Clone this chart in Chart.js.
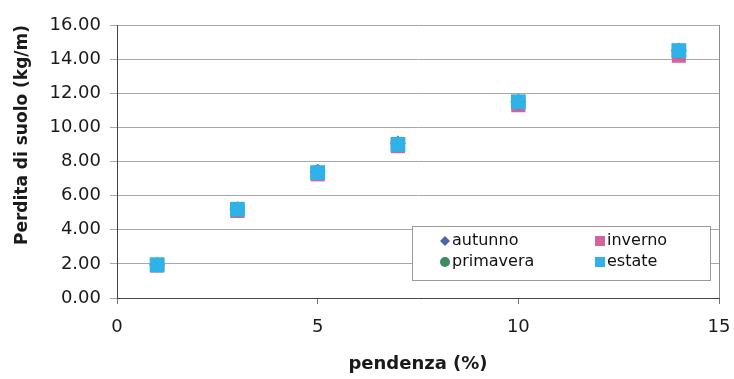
<!DOCTYPE html>
<html>
    <head>
        <title>Perdita di suolo</title>
        <script src="https://cdn.jsdelivr.net/npm/chart.js@4.4.1/dist/chart.umd.min.js"></script>
        <style>
            html, body { margin: 0; padding: 0; background: #fff; }
            #wrap { width: 734px; height: 379px; }
        </style>
    </head>
    <body>
        <div id="wrap"><canvas id="chart" width="734" height="379"></canvas></div>
        <script>
        // pendenza (%)
        const slopes = [1, 3, 5, 7, 10, 14];
        // perdita di suolo (kg/m) per stagione
        const autunno = [1.95, 5.2, 7.4, 9.05, 11.5, 14.5];
        const inverno = [1.9, 5.1, 7.25, 8.9, 11.3, 14.2];
        const primavera = [1.95, 5.15, 7.35, 9.0, 11.45, 14.45];
        const estate = [1.95, 5.2, 7.35, 9.0, 11.5, 14.5];

        const seriesNames = ['autunno', 'inverno', 'primavera', 'estate'];
        const seriesValues = [autunno, inverno, primavera, estate];
        const seriesColors = ['#4a68a8', '#d6629c', '#3e8a62', '#2eb2e8'];
        const seriesShapes = ['rectRot', 'rect', 'circle', 'rect'];
        const seriesRadius = [8, 10, 7, 10.5];
        const seriesOrder = [3, 2, 1, 0];   // estate on top

        const FONT = '"DejaVu Sans", "Liberation Sans", Arial, sans-serif';

        const datasets = seriesNames.map((name, i) => ({
            label: name,
            data: slopes.map((x, k) => ({ x: x, y: seriesValues[i][k] })),
            pointStyle: seriesShapes[i],
            pointRadius: seriesRadius[i],
            pointHoverRadius: seriesRadius[i],
            backgroundColor: seriesColors[i],
            borderColor: seriesColors[i],
            borderWidth: 0,
            order: seriesOrder[i]
        }));

        // legend box drawn inside the plot area, plus right border of plot
        const insideLegend = {
            id: 'insideLegend',
            afterDraw(chart) {
                const ctx = chart.ctx;
                const a = chart.chartArea;
                ctx.save();
                ctx.strokeStyle = '#8c8c8c';
                ctx.lineWidth = 1;
                ctx.beginPath();
                ctx.moveTo(Math.round(a.right) + 0.5, a.top);
                ctx.lineTo(Math.round(a.right) + 0.5, a.bottom);
                ctx.stroke();

                const bx = a.right - 307, by = a.bottom - 72, bw = 298, bh = 54;
                ctx.fillStyle = '#fff';
                ctx.fillRect(bx, by, bw, bh);
                ctx.strokeStyle = '#9a9a9a';
                ctx.strokeRect(bx + 0.5, by + 0.5, bw, bh);

                ctx.font = '16px ' + FONT;
                ctx.textBaseline = 'middle';
                ctx.textAlign = 'left';
                chart.data.datasets.forEach((ds, i) => {
                    const col = i % 2, row = Math.floor(i / 2);
                    const mx = bx + 33 + col * 155;
                    const my = by + 15 + row * 21;
                    ctx.fillStyle = ds.backgroundColor;
                    const shape = ds.pointStyle;
                    if (shape === 'rectRot') {
                        ctx.beginPath();
                        ctx.moveTo(mx, my - 5); ctx.lineTo(mx + 5, my);
                        ctx.lineTo(mx, my + 5); ctx.lineTo(mx - 5, my);
                        ctx.closePath(); ctx.fill();
                    } else if (shape === 'circle') {
                        ctx.beginPath();
                        ctx.arc(mx, my, 5, 0, Math.PI * 2);
                        ctx.fill();
                    } else {
                        ctx.fillRect(mx - 5, my - 5, 10, 10);
                    }
                    ctx.fillStyle = '#111';
                    ctx.fillText(ds.label, mx + 7, my);
                });
                ctx.restore();
            }
        };

        new Chart(document.getElementById('chart').getContext('2d'), {
            type: 'scatter',
            data: { datasets: datasets },
            options: {
                responsive: false,
                animation: false,
                layout: { padding: { top: 25, right: 15, left: 0, bottom: 0 } },
                plugins: {
                    legend: { display: false },
                    tooltip: { enabled: false }
                },
                scales: {
                    x: {
                        type: 'linear',
                        min: 0,
                        max: 15,
                        ticks: {
                            stepSize: 5,
                            color: '#1a1a1a',
                            font: { family: FONT, size: 18 },
                            padding: 13
                        },
                        grid: { drawOnChartArea: false, color: '#777', tickLength: 6 },
                        border: { color: '#444' },
                        title: {
                            display: true,
                            text: 'pendenza (%)',
                            color: '#1a1a1a',
                            font: { family: FONT, size: 18, weight: 'bold' },
                            padding: { top: 18 }
                        },
                        afterFit(scale) {
                            scale.height = 81;
                            scale.paddingLeft = 0;
                            scale.paddingRight = 0;
                        }
                    },
                    y: {
                        min: 0,
                        max: 16,
                        ticks: {
                            stepSize: 2,
                            color: '#1a1a1a',
                            font: { family: FONT, size: 18 },
                            padding: 9,
                            callback: v => v.toFixed(2)
                        },
                        grid: { color: '#a8a8a8', tickLength: 7 },
                        border: { color: '#444' },
                        title: {
                            display: true,
                            align: 'end',
                            text: 'Perdita di suolo (kg/m)',
                            color: '#1a1a1a',
                            font: { family: FONT, size: 17, weight: 'bold' },
                            padding: { top: 12, bottom: 4 }
                        },
                        afterFit(scale) { scale.width = 117; }
                    }
                }
            },
            plugins: [insideLegend]
        });
        </script>
    </body>
</html>
